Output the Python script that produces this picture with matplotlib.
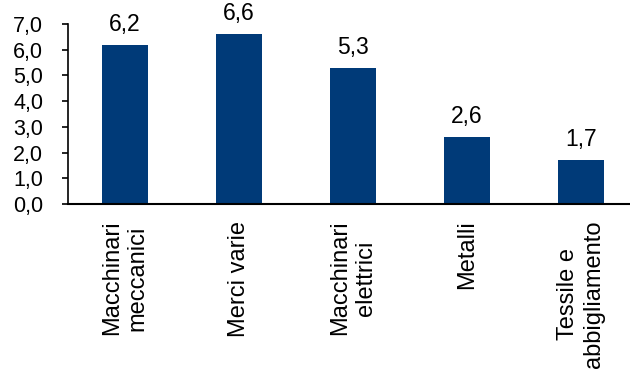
import matplotlib.pyplot as plt

plt.rcParams['font.family'] = ['Liberation Sans', 'DejaVu Sans']

categories = ['Macchinari\nmeccanici', 'Merci varie', 'Macchinari\nelettrici',
              'Metalli', 'Tessile e\nabbigliamento']
values = [6.2, 6.6, 5.3, 2.6, 1.7]
yticks = [0, 1, 2, 3, 4, 5, 6, 7]

fig = plt.figure(figsize=(6.3, 3.69), dpi=100)
ax = fig.add_axes([68 / 630, 165 / 369, 562 / 630, 180 / 369])

x = range(len(values))
bars = ax.bar(x, values, width=0.4, color='#003A78')

# value labels above the bars, comma as decimal separator
for xi, v in zip(x, values):
    ax.annotate(f'{v:.1f}'.replace('.', ','), (xi, v), xytext=(0, 10),
                textcoords='offset points', ha='center', va='baseline', fontsize=16.5)

ax.set_xlim(-0.5, 562 / 114 - 0.5)
ax.set_ylim(0, 7)
ax.set_yticks(yticks)
ax.set_yticklabels([f'{t:.1f}'.replace('.', ',') for t in yticks], fontsize=15.5)
ax.set_xticks(list(x))
ax.set_xticklabels(categories, rotation=90, fontsize=17, ha='center', va='top',
                   linespacing=1.2)
ax.tick_params(axis='x', length=0, pad=12)
ax.tick_params(axis='y', length=4, width=1.2, pad=14)

for side in ['top', 'right']:
    ax.spines[side].set_visible(False)
ax.spines['left'].set_linewidth(1.2)
ax.spines['bottom'].set_linewidth(1.5)

plt.savefig('out.png', dpi=100)
